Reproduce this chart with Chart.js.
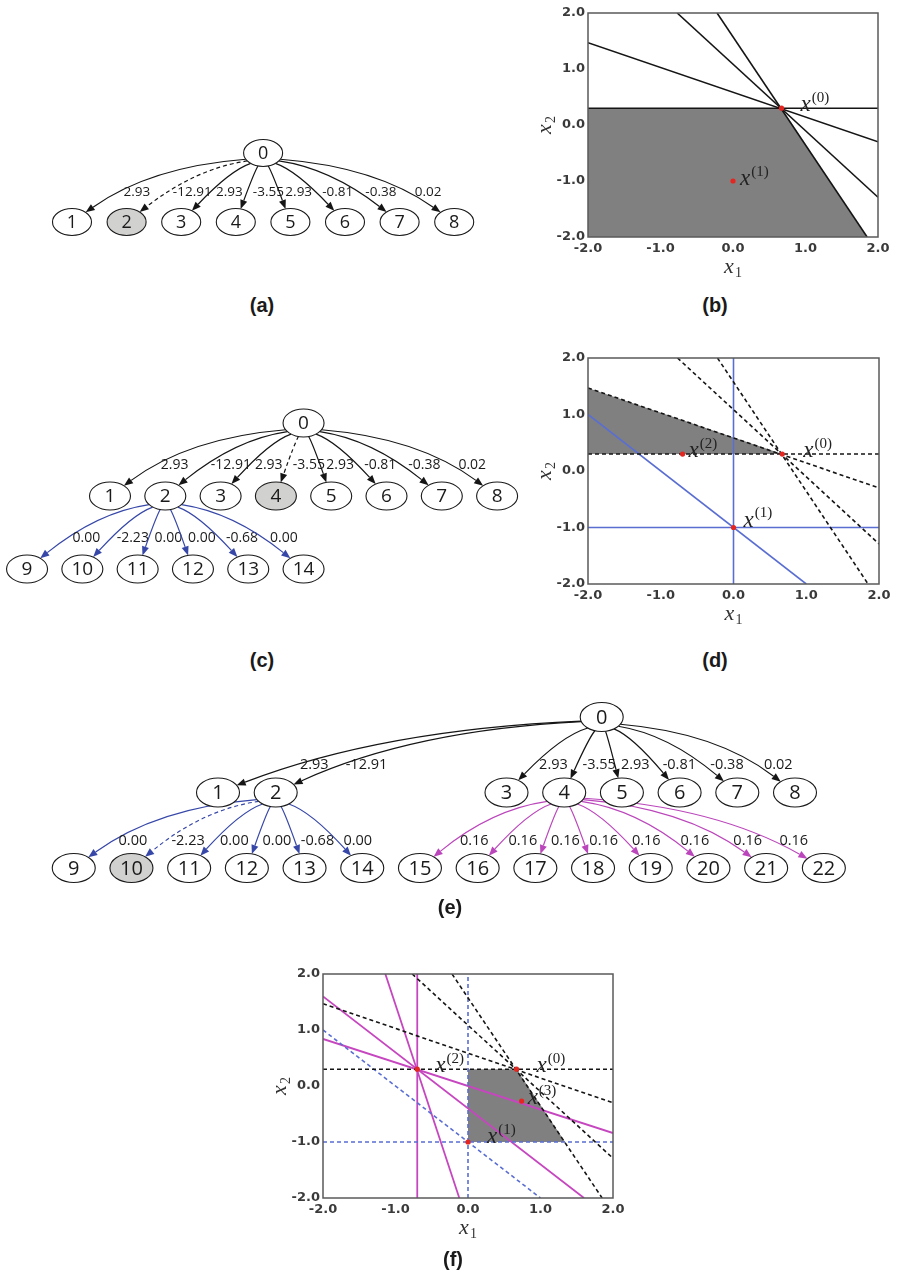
<!DOCTYPE html>
<html>
<head>
<meta charset="utf-8">
<script src="https://cdn.jsdelivr.net/npm/chart.js@4.4.0/dist/chart.umd.min.js"></script>
<style>
  body { margin: 0; background: #fff; width: 897px; height: 1280px; position: relative; overflow: hidden; }
  canvas { position: absolute; }
  .cap { position: absolute; font: bold 20px "Liberation Sans", Arial, sans-serif; color: #1a1a1a; transform: translate(-50%, -50%); }
</style>
</head>
<body>
<canvas id="treeA" width="500" height="130" style="left:0px;top:120px"></canvas>
<canvas id="plotB" width="397" height="290" style="left:500px;top:0px"></canvas>
<canvas id="treeC" width="540" height="210" style="left:0px;top:390px"></canvas>
<canvas id="plotD" width="397" height="300" style="left:500px;top:340px"></canvas>
<canvas id="treeE" width="897" height="215" style="left:0px;top:685px"></canvas>
<canvas id="plotF" width="420" height="290" style="left:230px;top:960px"></canvas>

<div class="cap" style="left:262px;top:305px">(a)</div>
<div class="cap" style="left:715px;top:305px">(b)</div>
<div class="cap" style="left:262px;top:660px">(c)</div>
<div class="cap" style="left:715px;top:660px">(d)</div>
<div class="cap" style="left:450px;top:907px">(e)</div>
<div class="cap" style="left:453px;top:1259px">(f)</div>

<script>
// Valori sugli archi
const rootEdgeValues = [2.93, -12.91, 2.93, -3.55, 2.93, -0.81, -0.38, 0.02];
const node2EdgeValues = [0.00, -2.23, 0.00, 0.00, -0.68, 0.00];
const node4EdgeValues = [0.16, 0.16, 0.16, 0.16, 0.16, 0.16, 0.16, 0.16];

// Posizioni dei nodi (in colonne della griglia)
const rootSlotAC = 3.5;
const level1SlotsAC = [0, 1, 2, 3, 4, 5, 6, 7];
const node2SlotsC = [-1.5, -0.5, 0.5, 1.5, 2.5, 3.5];
const rootSlotE = 6.65;
const level1SlotsE = [0, 1, 5, 6, 7, 8, 9, 10];
const node2SlotsE = [-2.5, -1.5, -0.5, 0.5, 1.5, 2.5];
const node4SlotsE = [3.5, 4.5, 5.5, 6.5, 7.5, 8.5, 9.5, 10.5];

// Tick degli assi
const axisTicks = [-2, -1, 0, 1, 2];

// Tagli: estremi [x1a, x2a, x1b, x2b]
const cutsRoot = [
  [-2.0, 1.47, 2.0, -0.30],
  [-0.77, 2.0, 2.0, -1.29],
  [-0.22, 2.0, 1.85, -2.0],
  [-2.0, 0.30, 2.0, 0.30]
];
const cutsNode2 = [
  [0.0, -2.0, 0.0, 2.0],
  [-2.0, -1.0, 2.0, -1.0],
  [-2.0, 1.0, 1.0, -2.0]
];
const cutsNode4 = [
  [-0.70, -2.0, -0.70, 2.0],
  [-2.0, 1.60, 1.60, -2.0],
  [-2.0, 0.84, 2.0, -0.84],
  [-1.14, 2.0, -0.12, -2.0]
];

// Punti x(0)..x(3)
const pointX0 = [0.67, 0.30];
const pointX1 = [0.00, -1.00];
const pointX2 = [-0.70, 0.30];
const pointX3 = [0.74, -0.27];

// Regioni ammissibili (bordo superiore, riempito fino a "base")
const regionB = [[-2.0, 0.30], [0.67, 0.30], [1.85, -2.0]];
const regionBBase = -2.0;
const regionD = [[-2.0, 1.47], [0.67, 0.30]];
const regionDBase = 0.30;
const regionF = [[0.0, 0.30], [0.67, 0.30], [1.34, -1.0]];
const regionFBase = -1.0;

const COL_BLACK = '#151515';
const COL_BLUE_EDGE = '#3647a8';
const COL_MAG_EDGE = '#bb45bb';
const COL_BLUE = '#5a6ed2';
const COL_MAG = '#c646bf';
const COL_RED = '#e3261f';
const COL_GRAY = '#808080';
const ARROW_L = 9;
const ARROW_W = 3.6;

function makeTree(rootSlot, level1, groups, dashedTo, grayNode) {
  const nodes = [{ id: 0, slot: rootSlot, level: 0 }];
  const edges = [];
  level1.forEach((s, i) => {
    nodes.push({ id: i + 1, slot: s, level: 1 });
    edges.push({ from: 0, to: i + 1, value: rootEdgeValues[i], color: COL_BLACK });
  });
  let next = level1.length + 1;
  groups.forEach(g => {
    g.slots.forEach((s, i) => {
      nodes.push({ id: next, slot: s, level: 2 });
      edges.push({ from: g.parent, to: next, value: g.values[i], color: g.color });
      next++;
    });
  });
  edges.forEach(e => { e.dashed = (e.to === dashedTo); });
  nodes.forEach(n => { n.gray = (n.id === grayNode); });
  return { nodes, edges };
}

function onEllipse(c, dx, dy, st) {
  const k = 1 / Math.sqrt((dx / st.rx) ** 2 + (dy / st.ry) ** 2);
  return { x: c.x + dx * k, y: c.y + dy * k };
}

function quad(a, b, c, t) {
  return (1 - t) * (1 - t) * a + 2 * t * (1 - t) * b + t * t * c;
}

function drawEdge(ctx, P, C, e, st) {
  const S = onEllipse(P, C.x - P.x, C.y - P.y, st);
  // archi lunghi piu' curvi, archi corti quasi dritti
  const bend = 1 - st.lift - Math.min(st.maxBend, Math.abs(S.x - C.x) / st.curve);
  const Q = { x: C.x + (S.x - C.x) * bend, y: S.y + (C.y - S.y) * st.lift };
  const E = onEllipse(C, Q.x - C.x, Q.y - C.y, st);
  let ux = E.x - Q.x, uy = E.y - Q.y;
  const len = Math.hypot(ux, uy);
  ux /= len; uy /= len;
  const B = { x: E.x - ux * ARROW_L, y: E.y - uy * ARROW_L };

  ctx.strokeStyle = e.color;
  ctx.fillStyle = e.color;
  ctx.lineWidth = 1.2;
  ctx.setLineDash(e.dashed ? [4, 3] : []);
  ctx.beginPath();
  ctx.moveTo(S.x, S.y);
  ctx.quadraticCurveTo(Q.x, Q.y, B.x, B.y);
  ctx.stroke();
  ctx.setLineDash([]);
  ctx.beginPath();
  ctx.moveTo(E.x, E.y);
  ctx.lineTo(B.x - uy * ARROW_W, B.y + ux * ARROW_W);
  ctx.lineTo(B.x + uy * ARROW_W, B.y - ux * ARROW_W);
  ctx.closePath();
  ctx.fill();

  // etichetta a destra dell'arco
  const ly = P.y + (C.y - P.y) * st.labelFrac;
  let lo = 0, hi = 1;
  for (let k = 0; k < 30; k++) {
    const m = (lo + hi) / 2;
    if (quad(S.y, Q.y, B.y, m) < ly) lo = m; else hi = m;
  }
  const lx = quad(S.x, Q.x, B.x, lo);
  ctx.fillStyle = '#1a1a1a';
  ctx.font = `${st.labelFont}px "Open Sans"`;
  ctx.textAlign = 'left';
  ctx.textBaseline = 'middle';
  ctx.fillText(e.value.toFixed(2), lx + st.labelGap, ly);
}

function drawNode(ctx, p, n, st) {
  ctx.beginPath();
  ctx.ellipse(p.x, p.y, st.rx, st.ry, 0, 0, Math.PI * 2);
  ctx.fillStyle = n.gray ? '#d1d2d0' : '#fff';
  ctx.fill();
  ctx.lineWidth = 1.1;
  ctx.strokeStyle = '#1a1a1a';
  ctx.stroke();
  ctx.fillStyle = '#1a1a1a';
  ctx.font = `${st.nodeFont}px "Open Sans"`;
  ctx.textAlign = 'center';
  ctx.textBaseline = 'middle';
  ctx.fillText(String(n.id), p.x, p.y + 1);
}

function drawTree(id, tree, st) {
  const canvas = document.getElementById(id);
  const left = parseFloat(canvas.style.left), top = parseFloat(canvas.style.top);
  const ox = st.slot0X - left, oy = st.rootY - top;
  new Chart(canvas, {
    type: 'scatter',
    data: { datasets: [{ data: tree.nodes.map(n => ({ x: n.slot, y: n.level })), pointRadius: 0 }] },
    options: {
      responsive: false,
      animation: false,
      events: [],
      layout: { padding: 0 },
      plugins: { legend: { display: false }, tooltip: { enabled: false } },
      scales: {
        x: { type: 'linear', display: false, min: -ox / st.slotW, max: (canvas.width - ox) / st.slotW },
        y: { type: 'linear', display: false, reverse: true, min: -oy / st.levelH, max: (canvas.height - oy) / st.levelH }
      }
    },
    plugins: [{
      id: 'tree',
      afterDatasetsDraw(chart) {
        const ctx = chart.ctx;
        const pts = chart.getDatasetMeta(0).data;
        ctx.save();
        tree.edges.forEach(e => drawEdge(ctx, pts[e.from], pts[e.to], e, st));
        tree.nodes.forEach((n, i) => drawNode(ctx, pts[i], n, st));
        ctx.restore();
      }
    }]
  });
}

function drawMath(ctx, x, y, script, sup, size, center) {
  const small = Math.round(size * 0.64);
  ctx.font = `italic ${size}px "Liberation Serif"`;
  const w1 = ctx.measureText('x').width;
  ctx.font = `${small}px "Liberation Serif"`;
  const w2 = ctx.measureText(script).width;
  const x0 = center ? x - (w1 + w2 + 1) / 2 : x;
  ctx.font = `italic ${size}px "Liberation Serif"`;
  ctx.fillText('x', x0, y);
  ctx.font = `${small}px "Liberation Serif"`;
  ctx.fillText(script, x0 + w1 + 1, sup ? y - size * 0.4 : y + size * 0.2);
}

function lineSet(seg, color, dash, width) {
  return {
    data: [{ x: seg[0], y: seg[1] }, { x: seg[2], y: seg[3] }],
    showLine: true, borderColor: color, borderWidth: width, borderDash: dash,
    pointRadius: 0, fill: false, order: 5
  };
}

function drawPlot(id, cfg, st) {
  const datasets = [{
    data: cfg.region.map(p => ({ x: p[0], y: p[1] })),
    showLine: true, fill: { value: cfg.regionBase }, backgroundColor: COL_GRAY,
    borderWidth: 0, pointRadius: 0, order: 10
  }];
  cfg.lines.forEach(l => l.cuts.forEach(c => datasets.push(lineSet(c, l.color, l.dash, l.width))));
  datasets.push({
    data: cfg.points.map(p => ({ x: p.p[0], y: p.p[1] })),
    showLine: false, pointRadius: 2.6, pointBorderWidth: 0, backgroundColor: COL_RED, order: 0
  });

  const tick = {
    font: { family: 'DejaVu Sans', size: 13, weight: 'bold' },
    color: '#3a3a3a', autoSkip: false, maxRotation: 0,
    callback: v => v.toFixed(1)
  };
  const setTicks = s => { s.ticks = axisTicks.map(v => ({ value: v })); };

  new Chart(document.getElementById(id), {
    type: 'scatter',
    data: { datasets },
    options: {
      responsive: false,
      animation: false,
      events: [],
      layout: { padding: { left: 0, top: st.padTop, right: st.padRight, bottom: 0 } },
      plugins: { legend: { display: false }, tooltip: { enabled: false } },
      scales: {
        x: {
          type: 'linear', min: -2, max: 2, afterBuildTicks: setTicks,
          ticks: { ...tick, padding: 4 },
          grid: { display: false, drawTicks: false }, border: { display: false },
          afterFit: s => { s.height = st.xAxisH; }
        },
        y: {
          type: 'linear', min: -2, max: 2, afterBuildTicks: setTicks,
          ticks: { ...tick, padding: 3 },
          grid: { display: false, drawTicks: false }, border: { display: false },
          afterFit: s => { s.width = st.yAxisW; }
        }
      }
    },
    plugins: [{
      id: 'frame',
      afterDatasetsDraw(chart) {
        const { ctx, chartArea: a, scales } = chart;
        ctx.save();
        ctx.strokeStyle = '#5a5a5a';
        ctx.lineWidth = 1.5;
        ctx.strokeRect(a.left, a.top, a.right - a.left, a.bottom - a.top);
        ctx.fillStyle = '#222';
        ctx.textAlign = 'left';
        ctx.textBaseline = 'alphabetic';
        cfg.points.forEach(p => {
          const px = scales.x.getPixelForValue(p.p[0]);
          const py = scales.y.getPixelForValue(p.p[1]);
          drawMath(ctx, px + p.dx, py + p.dy, p.s, true, 23, false);
        });
        ctx.fillStyle = '#333';
        drawMath(ctx, (a.left + a.right) / 2, a.bottom + 36, '1', false, 22, true);
        ctx.translate(a.left - 37, (a.top + a.bottom) / 2);
        ctx.rotate(-Math.PI / 2);
        drawMath(ctx, 0, 0, '2', false, 22, true);
        ctx.restore();
      }
    }]
  });
}

// Alberi
const treeA = makeTree(rootSlotAC, level1SlotsAC, [], 2, 2);
const treeC = makeTree(rootSlotAC, level1SlotsAC,
  [{ parent: 2, slots: node2SlotsC, values: node2EdgeValues, color: COL_BLUE_EDGE }], 4, 4);
const treeE = makeTree(rootSlotE, level1SlotsE, [
  { parent: 2, slots: node2SlotsE, values: node2EdgeValues, color: COL_BLUE_EDGE },
  { parent: 4, slots: node4SlotsE, values: node4EdgeValues, color: COL_MAG_EDGE }
], 10, 10);

const edgeShape = { lift: 0.12, maxBend: 0.43, curve: 400, labelGap: 6 };
drawTree('treeA', treeA, { ...edgeShape, slot0X: 72, slotW: 54.6, rootY: 153, levelH: 69, rx: 19.5, ry: 13.5,
  nodeFont: 18, labelFont: 13.5, labelFrac: 0.57 });
drawTree('treeC', treeC, { ...edgeShape, slot0X: 110, slotW: 55.3, rootY: 423, levelH: 73, rx: 20.5, ry: 14,
  nodeFont: 19, labelFont: 14, labelFrac: 0.58 });
drawTree('treeE', treeE, { ...edgeShape, slot0X: 218, slotW: 57.7, rootY: 717, levelH: 75.5, rx: 21.5, ry: 14.5,
  nodeFont: 20, labelFont: 14.5, labelFrac: 0.64 });

// Grafici delle regioni
drawPlot('plotB', {
  region: regionB, regionBase: regionBBase,
  lines: [{ cuts: cutsRoot, color: COL_BLACK, dash: [], width: 1.6 }],
  points: [{ p: pointX0, s: '(0)', dx: 19, dy: 3 }, { p: pointX1, s: '(1)', dx: 7, dy: 4 }]
}, { padTop: 13, padRight: 19, xAxisH: 53, yAxisW: 88 });

drawPlot('plotD', {
  region: regionD, regionBase: regionDBase,
  lines: [
    { cuts: cutsRoot, color: COL_BLACK, dash: [4, 3], width: 1.6 },
    { cuts: cutsNode2, color: COL_BLUE, dash: [], width: 1.6 }
  ],
  points: [{ p: pointX0, s: '(0)', dx: 21, dy: 3 }, { p: pointX1, s: '(1)', dx: 10, dy: -1 },
    { p: pointX2, s: '(2)', dx: 6, dy: 3 }]
}, { padTop: 18, padRight: 18, xAxisH: 56, yAxisW: 88 });

drawPlot('plotF', {
  region: regionF, regionBase: regionFBase,
  lines: [
    { cuts: cutsRoot, color: COL_BLACK, dash: [4, 3], width: 1.6 },
    { cuts: cutsNode2, color: COL_BLUE, dash: [4, 3], width: 1.6 },
    { cuts: cutsNode4, color: COL_MAG, dash: [], width: 1.8 }
  ],
  points: [{ p: pointX0, s: '(0)', dx: 20, dy: 3 }, { p: pointX1, s: '(1)', dx: 19, dy: 1 },
    { p: pointX2, s: '(2)', dx: 18, dy: 3 }, { p: pointX3, s: '(3)', dx: 6, dy: 3 }]
}, { padTop: 14, padRight: 37, xAxisH: 52, yAxisW: 93 });
</script>
</body>
</html>
